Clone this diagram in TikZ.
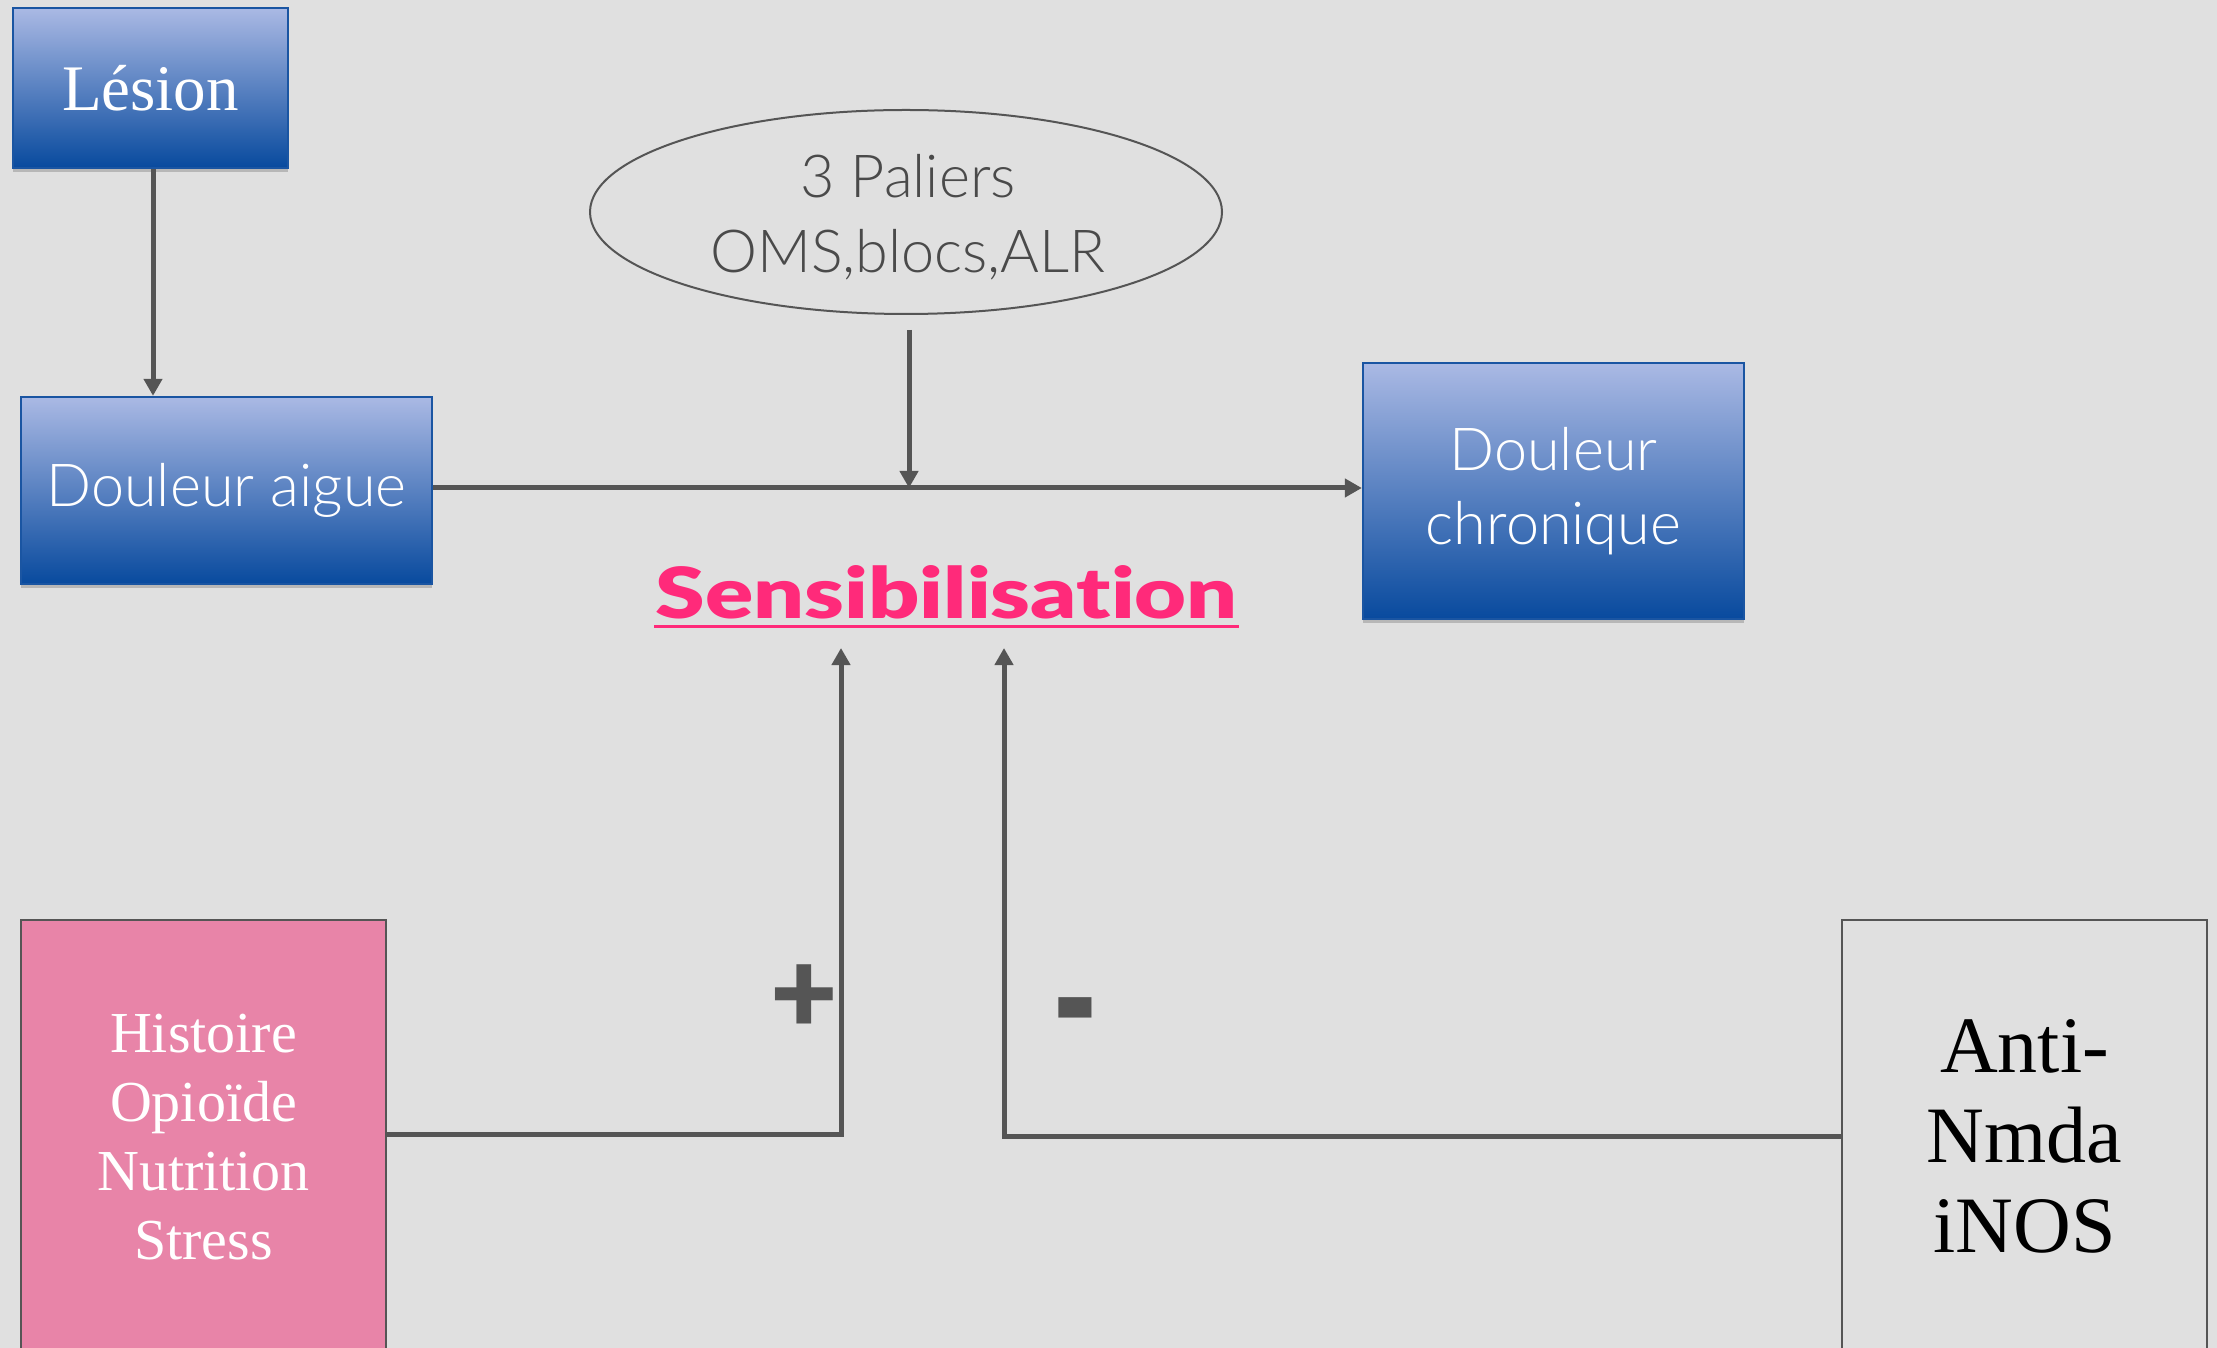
\documentclass[tikz,border=0pt]{standalone}
\usepackage{fontspec}
\usepackage{graphicx}
\setmainfont{Liberation Serif}
\newfontfamily\gill{Lato Light}[Ligatures=NoCommon]
\newfontfamily\gillbold{Lato Black}[Ligatures=NoCommon]
\usetikzlibrary{arrows.meta,shapes.geometric,shadows}
\definecolor{bg}{HTML}{E0E0E0}
\definecolor{btop}{HTML}{AAB9E4}
\definecolor{bbot}{HTML}{084A9E}
\definecolor{bedge}{HTML}{1A55A2}
\definecolor{pinkfill}{HTML}{E884A8}
\definecolor{hot}{HTML}{FF2A7A}
\definecolor{ink}{HTML}{555555}
\definecolor{greytext}{HTML}{4A4A4A}
\begin{document}
\begin{tikzpicture}[x=0.3pt,y=-0.3pt,
  bluebox/.style={draw=bedge, line width=0.7pt, top color=btop, bottom color=bbot,
    text=white, inner sep=0pt, align=center,
    drop shadow={shadow xshift=0pt, shadow yshift=-1.2pt, opacity=0.18, fill=black}},
  greybox/.style={draw=ink, line width=0.6pt, inner sep=0pt, align=center},
  arr/.style={draw=ink, line width=1.5pt, line join=miter,
    -{Triangle[length=5.1pt,width=5.4pt]}},
  sign/.style={text=ink, inner sep=0pt, font=\gillbold\fontsize{35}{38}\selectfont}
]
\fill[bg] (0,0) rectangle (2217,1348);
\useasboundingbox (0,0) rectangle (2217,1348);
\clip (0,0) rectangle (2217,1348);

% boxes
\node[bluebox, minimum width={275*0.3pt}, minimum height={160*0.3pt},
  font=\fontsize{19.5}{23}\selectfont] (lesion) at (150.5,88) {Lésion};
\node[bluebox, minimum width={411*0.3pt}, minimum height={187*0.3pt},
  font=\gill\fontsize{17.8}{22}\selectfont] (aigue) at (226.5,490.5) {\raisebox{-1.2pt}{Douleur aigue}};
\node[bluebox, minimum width={381*0.3pt}, minimum height={256*0.3pt},
  font=\gill\fontsize{17.8}{22.2}\selectfont] (chron) at (1553.5,491) {Douleur\\chronique};
\node[ellipse, draw=ink, line width=0.6pt, inner sep=0pt,
  minimum width={632*0.3pt}, minimum height={204*0.3pt}] (ell) at (906,212) {};
\node[align=center, inner sep=0pt, text=greytext,
  font=\gill\fontsize{17.8}{22.5}\selectfont] (elltxt) at (908,217) {3 Paliers\\OMS,blocs,ALR};
\node[greybox, fill=pinkfill, text=white, minimum width={365*0.3pt}, minimum height={434*0.3pt},
  font=\fontsize{17.4}{20.7}\selectfont] (pink) at (203.5,1137) {Histoire\\Opioïde\\Nutrition\\Stress};
\node[greybox, text=black, minimum width={365*0.3pt}, minimum height={433*0.3pt},
  font=\fontsize{24}{27}\selectfont] (anti) at (2024.5,1136.5) {Anti-\\Nmda\\iNOS};

% Sensibilisation
\node[anchor=south west, inner sep=0pt, text=hot] (sens) at (655,620)
  {\resizebox{174.6pt}{15.9pt}{\gillbold Sensibilisation}};
\draw[hot, line width=0.9pt] ([xshift=-0.3pt,yshift=-2.1pt]sens.south west) -- ([xshift=0.3pt,yshift=-2.1pt]sens.south east);

% connectors
\coordinate (lx) at (153,0);
\coordinate (jn) at (909,488);
\draw[arr] (lesion.south -| lx) -- (aigue.north -| lx);
\draw[arr] (aigue.east |- jn) -- (chron.west |- jn);
\draw[arr, shorten <=4.5pt] (ell.south -| jn) -- (jn);

\coordinate (pc) at (841,1134);
\coordinate (pin) at (841,648);
\draw[arr] (pink.east |- pc) -- (pc) -- (pin);
\coordinate (mc) at (1004,1136);
\coordinate (min) at (1004,648);
\draw[arr] (anti.west |- mc) -- (mc) -- (min);

\node[sign] (plus) at (804,999) {+};
\node[sign] (minus) at (1075,1028) {\scalebox{1.05}[1.4]{-}};
\end{tikzpicture}
\end{document}
